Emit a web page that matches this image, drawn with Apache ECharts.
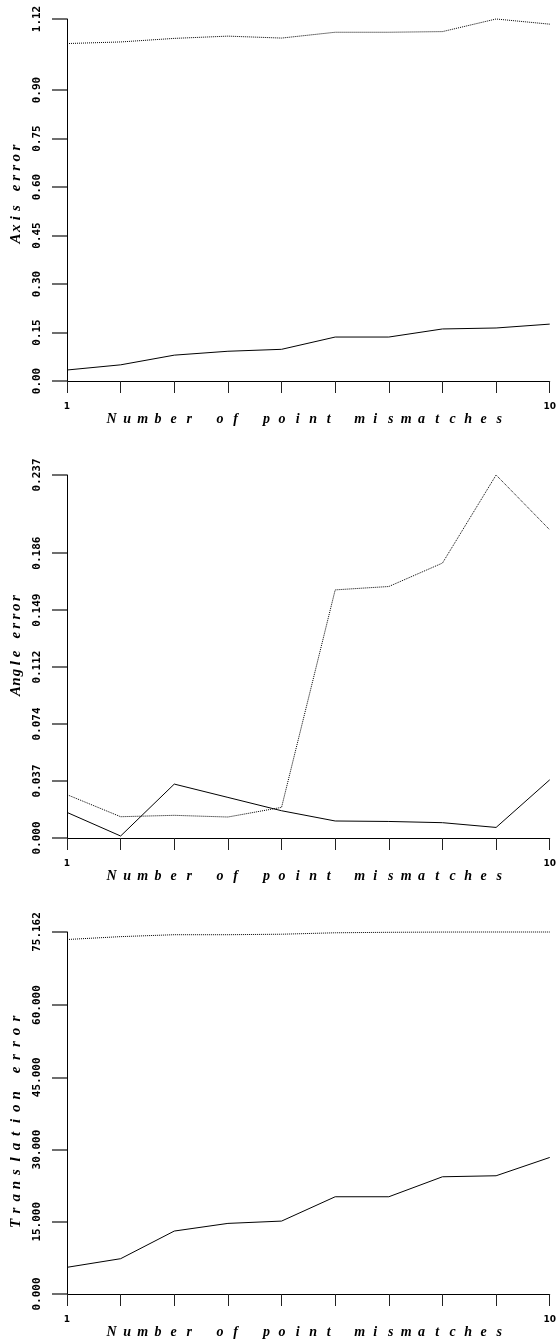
<!DOCTYPE html>
<html>
<head>
<meta charset="utf-8">
<script src="https://cdn.jsdelivr.net/npm/echarts@6/dist/echarts.min.js"></script>
<style>
  html, body { margin: 0; padding: 0; background: #fff; }
  #chart { width: 559px; height: 1342px; }
</style>
</head>
<body>
<div id="chart"></div>
<script>
// ---- data ----
const xValues = [1, 2, 3, 4, 5, 6, 7, 8, 9, 10];
const xLabelValues = [1, 10];
const xAxisName = 'Number of point mismatches';

const axisErrName = 'Axis error';
const axisErrSolid = [0.034, 0.050, 0.080, 0.092, 0.098, 0.136, 0.136, 0.161, 0.164, 0.176];
const axisErrDotted = [1.044, 1.049, 1.060, 1.067, 1.061, 1.079, 1.079, 1.081, 1.120, 1.104];
const axisErrTicks = [0, 0.15, 0.30, 0.45, 0.60, 0.75, 0.90, 1.12];
const axisErrTickLabels = ['0.00', '0.15', '0.30', '0.45', '0.60', '0.75', '0.90', '1.12'];

const angleErrName = 'Angle error';
const angleErrSolid = [0.0167, 0.0013, 0.0352, 0.0265, 0.0178, 0.0111, 0.0108, 0.0100, 0.0069, 0.0380];
const angleErrDotted = [0.0283, 0.0139, 0.0148, 0.0137, 0.0200, 0.1620, 0.1642, 0.1795, 0.2370, 0.2012];
const angleErrTicks = [0, 0.0372, 0.0744, 0.1116, 0.1488, 0.186, 0.237];
const angleErrTickLabels = ['0.000', '0.037', '0.074', '0.112', '0.149', '0.186', '0.237'];

const transErrName = 'Translation error';
const transErrSolid = [5.54, 7.33, 13.07, 14.66, 15.14, 20.19, 20.19, 24.34, 24.55, 28.35];
const transErrDotted = [73.6, 74.2, 74.6, 74.6, 74.7, 75.0, 75.1, 75.15, 75.162, 75.16];
const transErrTicks = [0, 15, 30, 45, 60, 75.162];
const transErrTickLabels = ['0.000', '15.000', '30.000', '45.000', '60.000', '75.162'];

// ---- helpers ----
function pairs(ys) { return xValues.map((x, i) => [x, ys[i]]); }
function spaced(str) { return str.split('').map(c => '{c|' + c + '}').join(''); }
function lookupLabel(ticks, labels) {
  return function (v) {
    let best = 0, bd = Infinity;
    ticks.forEach((t, i) => { const d = Math.abs(t - v); if (d < bd) { bd = d; best = i; } });
    return labels[best];
  };
}

const tickFont = { fontFamily: 'DejaVu Sans Mono', fontWeight: 'bold', fontSize: 11, color: '#000' };
const nameFontBase = { fontFamily: 'Liberation Serif', fontStyle: 'italic', fontWeight: 'bold', fontSize: 14, color: '#000' };

const grids = [
  { left: 67, top: 19, width: 485, height: 362 },
  { left: 67, top: 475, width: 485, height: 363 },
  { left: 67, top: 932, width: 485, height: 362 }
];

function xAxisFor(idx) {
  return {
    gridIndex: idx, type: 'value', min: 1, max: 10, interval: 1,
    name: spaced(xAxisName), nameLocation: 'middle', nameGap: 29,
    nameTextStyle: Object.assign({}, nameFontBase, {
      padding: [0, 6, 0, 0],
      rich: { c: Object.assign({}, nameFontBase, { width: 15.5, align: 'center' }) }
    }),
    axisLine: { show: true, onZero: false, lineStyle: { color: '#000', width: 1 } },
    axisTick: { show: true, inside: false, length: 12, lineStyle: { color: '#222', width: 1 } },
    axisLabel: { customValues: xLabelValues, margin: 21, fontSize: 9, fontFamily: 'DejaVu Sans', fontWeight: 'bold', color: '#000' },
    splitLine: { show: false }
  };
}

function yAxisFor(idx, name, pitch, shift, ticks, labels, max) {
  // shift > 0 moves the rotated name up, < 0 moves it down
  const pad = shift >= 0 ? [0, 0, 0, 2 * shift] : [0, -2 * shift, 0, 0];
  return {
    gridIndex: idx, type: 'value', min: 0, max: max,
    name: spaced(name), nameLocation: 'middle', nameGap: 38, nameRotate: 90,
    nameTextStyle: Object.assign({}, nameFontBase, {
      fontSize: 15, padding: pad,
      rich: { c: Object.assign({}, nameFontBase, { fontSize: 15, width: pitch, align: 'center' }) }
    }),
    axisLine: { show: true, onZero: false, lineStyle: { color: '#000', width: 1 } },
    axisTick: { show: true, inside: false, length: 15, customValues: ticks, lineStyle: { color: '#6e6e6e', width: 2 } },
    axisLabel: Object.assign({ customValues: ticks, rotate: 90, margin: 24, formatter: lookupLabel(ticks, labels) }, tickFont),
    splitLine: { show: false }
  };
}

function lineSeries(idx, ys, dotted) {
  return {
    type: 'line', xAxisIndex: idx, yAxisIndex: idx,
    data: pairs(ys), symbol: 'none', showSymbol: false, clip: false,
    lineStyle: { color: '#000', width: 1, type: dotted ? 'dotted' : 'solid' },
    silent: true, animation: false, z: 3
  };
}

const chart = echarts.init(document.getElementById('chart'), null, { renderer: 'canvas' });
chart.setOption({
  animation: false,
  backgroundColor: '#fff',
  grid: grids,
  xAxis: [xAxisFor(0), xAxisFor(1), xAxisFor(2)],
  yAxis: [
    yAxisFor(0, axisErrName, 10.1, 7, axisErrTicks, axisErrTickLabels, 1.12),
    yAxisFor(1, angleErrName, 9.3, 12, angleErrTicks, angleErrTickLabels, 0.237),
    yAxisFor(2, transErrName, 12.8, -8, transErrTicks, transErrTickLabels, 75.162)
  ],
  series: [
    lineSeries(0, axisErrSolid, false),
    lineSeries(0, axisErrDotted, true),
    lineSeries(1, angleErrSolid, false),
    lineSeries(1, angleErrDotted, true),
    lineSeries(2, transErrSolid, false),
    lineSeries(2, transErrDotted, true)
  ]
});
</script>
</body>
</html>
